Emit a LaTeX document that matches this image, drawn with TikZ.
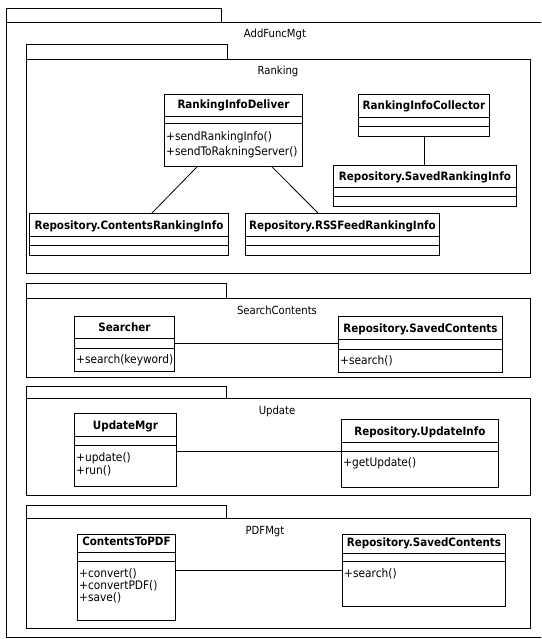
\documentclass[tikz,border=0pt]{standalone}
\usepackage{fontspec}
\newfontfamily\umlfont{DejaVu Sans Condensed}
\usetikzlibrary{calc}

\tikzset{
  umlline/.style={line width=0.9pt, draw=black},
  classbox/.style={umlline, rectangle, inner sep=0pt, fill=white},
  classtitle/.style={font=\umlfont\bfseries\fontsize{11.5}{13}\selectfont, inner sep=0pt},
  classop/.style={font=\umlfont\fontsize{11.8}{13}\selectfont, inner sep=0pt},
  pkgbox/.style={umlline, rectangle, inner sep=0pt},
  pkglabel/.style={font=\umlfont\fontsize{11.2}{13}\selectfont, inner sep=0pt, anchor=base},
  assoc/.style={line width=0.8pt, draw=black}
}

% class box: name, left, top, right, bottom, first divider, second divider, title
\newcommand\umlclass[8]{%
  \node[classbox, minimum width={(#4)-(#2)}, minimum height={(#5)-(#3)}, anchor=north west] (#1) at (#2,#3) {};
  \draw[umlline] (#1.west |- 0,#6) -- (#1.east |- 0,#6);
  \draw[umlline] (#1.west |- 0,#7) -- (#1.east |- 0,#7);
  \node[classtitle, anchor=base] (#1-title) at (#1.north |- 0,{#6-7}) {#8};
}
% one operation line: class, baseline, text
\newcommand\umlop[3]{%
  \node[classop, anchor=base west] at ([xshift=2pt]#1.west |- 0,#2) {#3};
}
% package: name, left, tab top, tab right, body top, right, bottom, label x, label
\newcommand\umlpackage[9]{%
  \node[pkgbox, minimum width={(#4)-(#2)}, minimum height={(#5)-(#3)}, anchor=north west] (#1-tab) at (#2,#3) {};
  \node[pkgbox, minimum width={(#6)-(#2)}, minimum height={(#7)-(#5)}, anchor=north west] (#1) at (#2,#5) {};
  \node[pkglabel] (#1-label) at (#8,{#5+16}) {#9};
}

\begin{document}
\begin{tikzpicture}[x=1pt, y=-1pt]
  \useasboundingbox (0,0) rectangle (541,639);
  \clip (0,0) rectangle (541,639);
  \fill[white] (0,0) rectangle (541,639);

  % enclosing package
  \umlpackage{addfunc}{6}{8}{221}{22}{545}{637}{275}{AddFuncMgt}

  % Ranking
  \umlpackage{ranking}{26}{44}{227}{59}{530}{273}{278}{Ranking}
  \umlclass{deliver}{164}{94}{302}{166}{116}{123}{RankingInfoDeliver}
  \umlop{deliver}{141}{+sendRankingInfo()}
  \umlop{deliver}{156}{+sendToRakningServer()}
  \umlclass{collector}{358}{94}{489}{136}{117}{126}{RankingInfoCollector}
  \umlclass{savedrank}{333}{165}{516}{206}{187}{196}{Repository.SavedRankingInfo}
  \umlclass{crank}{29}{213}{228}{255}{236}{245}{Repository.ContentsRankingInfo}
  \umlclass{rssrank}{245}{213}{439}{255}{236}{245}{Repository.RSSFeedRankingInfo}
  \draw[assoc] ([xshift=33pt]deliver.south west) -- ([xshift=123pt]crank.north west);
  \draw[assoc] ([xshift=108pt]deliver.south west) -- ([xshift=73pt]rssrank.north west);
  \draw[assoc] ([xshift=66pt]collector.south west) -- ([xshift=91pt]savedrank.north west);

  % SearchContents
  \umlpackage{search}{26}{283}{226}{298}{530}{377}{277}{SearchContents}
  \umlclass{searcher}{74}{316}{174}{371}{338}{348}{Searcher}
  \umlop{searcher}{363}{+search(keyword)}
  \umlclass{savedsearch}{338}{316}{502}{372}{339}{349}{Repository.SavedContents}
  \umlop{savedsearch}{364}{+search()}
  \draw[assoc] ([yshift=-27pt]searcher.north east) -- ([yshift=-27pt]savedsearch.north west);

  % Update
  \umlpackage{update}{26}{386}{226}{398}{530}{495}{277}{Update}
  \umlclass{updmgr}{74}{413}{176}{486}{436}{445}{UpdateMgr}
  \umlop{updmgr}{461}{+update()}
  \umlop{updmgr}{474}{+run()}
  \umlclass{updinfo}{341}{419}{498}{487}{442}{451}{Repository.UpdateInfo}
  \umlop{updinfo}{466}{+getUpdate()}
  \draw[assoc] ([yshift=-38pt]updmgr.north east) -- ([yshift=-32pt]updinfo.north west);

  % PDFMgt
  \umlpackage{pdf}{26}{505}{226}{518}{530}{628}{265}{PDFMgt}
  \umlclass{topdf}{77}{534}{175}{620}{552}{561}{ContentsToPDF}
  \umlop{topdf}{577}{+convert()}
  \umlop{topdf}{589}{+convertPDF()}
  \umlop{topdf}{601}{+save()}
  \umlclass{savedpdf}{342}{534}{505}{606}{553}{561}{Repository.SavedContents}
  \umlop{savedpdf}{577}{+search()}
  \draw[assoc] ([yshift=-36pt]topdf.north east) -- ([yshift=-36pt]savedpdf.north west);
\end{tikzpicture}
\end{document}
